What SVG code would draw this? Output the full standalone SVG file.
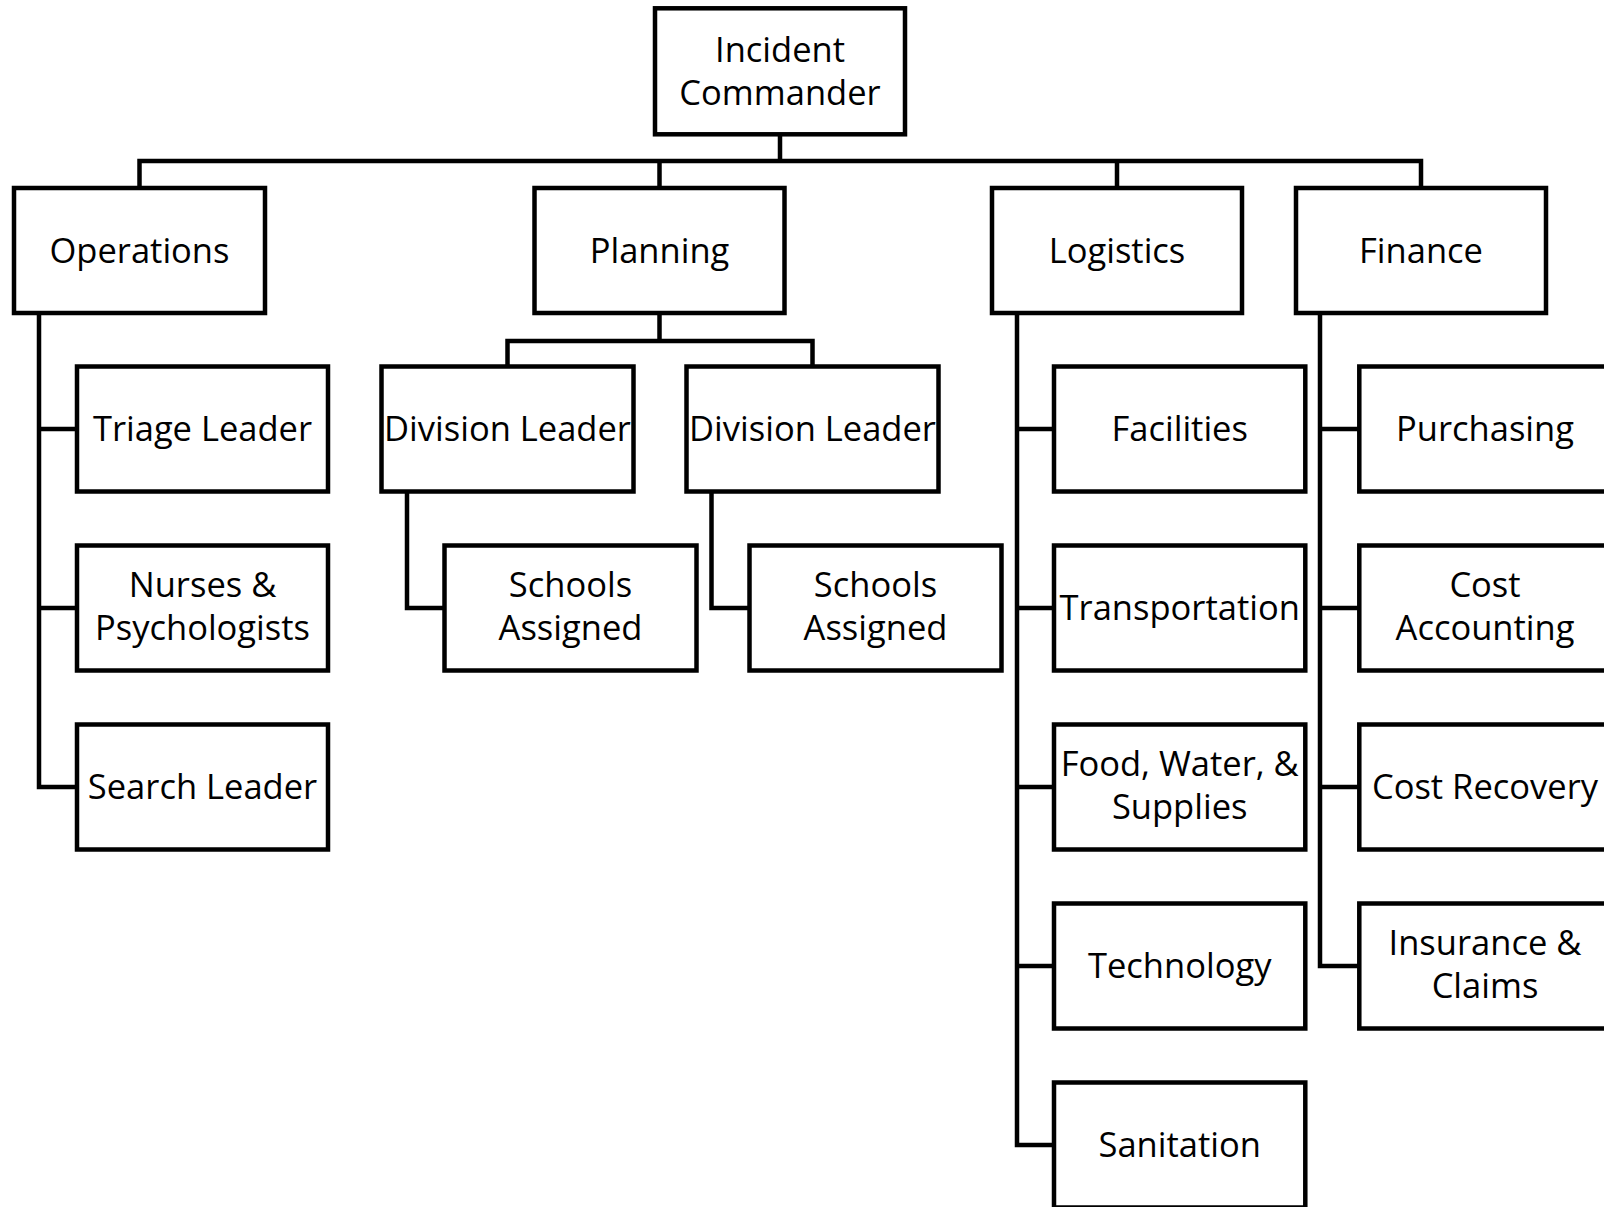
<svg xmlns="http://www.w3.org/2000/svg" width="1604" height="1207" viewBox="0 0 1604 1207">
<style>
.box{fill:#fff;stroke:#000;stroke-width:4.5}
.ln{fill:none;stroke:#000;stroke-width:4.5;stroke-linejoin:miter;stroke-linecap:square}
text{font-family:"Open Sans","Noto Sans",sans-serif;font-size:34.5px;fill:#000;text-anchor:middle}
</style>
<rect width="1604" height="1207" fill="#fff"/>
<g id="connectors">
<path class="ln" d="M780 134V161M139.5 161H1421M139.5 161V188M659.5 161V188M1117 161V188M1421 161V188"/>
<path class="ln" d="M659.5 313V341M507.5 341H812.5M507.5 341V366.5M812.5 341V366.5"/>
<path class="ln" d="M407 491.5V608H444.5M711.5 491.5V608H749.5"/>
<path class="ln" d="M39 313V787H77M39 429H77M39 608H77"/>
<path class="ln" d="M1017 313V1145H1054M1017 429H1054M1017 608H1054M1017 787H1054M1017 966H1054"/>
<path class="ln" d="M1320 313V966H1359M1320 429H1359M1320 608H1359M1320 787H1359"/>
</g>
<g id="incident-commander"><rect class="box" x="655" y="8.3" width="250" height="126"/><text x="780" y="61.5">Incident</text><text x="780" y="105">Commander</text></g>
<g id="operations"><rect class="box" x="14" y="188" width="251" height="125"/><text x="139.5" y="262.5">Operations</text></g>
<g id="planning"><rect class="box" x="534.5" y="188" width="250" height="125"/><text x="659.5" y="262.5">Planning</text></g>
<g id="logistics"><rect class="box" x="992" y="188" width="250" height="125"/><text x="1117" y="262.5">Logistics</text></g>
<g id="finance"><rect class="box" x="1296" y="188" width="250" height="125"/><text x="1421" y="262.5">Finance</text></g>
<g id="triage-leader"><rect class="box" x="77" y="366.5" width="251" height="125"/><text x="202.5" y="441">Triage Leader</text></g>
<g id="nurses"><rect class="box" x="77" y="545.5" width="251" height="125"/><text x="202.5" y="596.5">Nurses &amp;</text><text x="202.5" y="640">Psychologists</text></g>
<g id="search-leader"><rect class="box" x="77" y="724.5" width="251" height="125"/><text x="202.5" y="799">Search Leader</text></g>
<g id="division-leader-1"><rect class="box" x="381.5" y="366.5" width="252" height="125"/><text x="507.5" y="441">Division Leader</text></g>
<g id="division-leader-2"><rect class="box" x="686.5" y="366.5" width="252" height="125"/><text x="812.5" y="441">Division Leader</text></g>
<g id="schools-1"><rect class="box" x="444.5" y="545.5" width="252" height="125"/><text x="570.5" y="596.5">Schools</text><text x="570.5" y="640">Assigned</text></g>
<g id="schools-2"><rect class="box" x="749.5" y="545.5" width="252" height="125"/><text x="875.5" y="596.5">Schools</text><text x="875.5" y="640">Assigned</text></g>
<g id="facilities"><rect class="box" x="1054" y="366.5" width="251.3" height="125"/><text x="1179.7" y="441">Facilities</text></g>
<g id="transportation"><rect class="box" x="1054" y="545.5" width="251.3" height="125"/><text x="1179.7" y="620">Transportation</text></g>
<g id="food"><rect class="box" x="1054" y="724.5" width="251.3" height="125"/><text x="1179.7" y="775.5">Food, Water, &amp;</text><text x="1179.7" y="819">Supplies</text></g>
<g id="technology"><rect class="box" x="1054" y="903.5" width="251.3" height="125"/><text x="1179.7" y="978">Technology</text></g>
<g id="sanitation"><rect class="box" x="1054" y="1082.5" width="251.3" height="125"/><text x="1179.7" y="1157">Sanitation</text></g>
<g id="purchasing"><rect class="box" x="1359.3" y="366.5" width="251" height="125"/><text x="1485" y="441">Purchasing</text></g>
<g id="cost-accounting"><rect class="box" x="1359.3" y="545.5" width="251" height="125"/><text x="1485" y="596.5">Cost</text><text x="1485" y="640">Accounting</text></g>
<g id="cost-recovery"><rect class="box" x="1359.3" y="724.5" width="251" height="125"/><text x="1485" y="799">Cost Recovery</text></g>
<g id="insurance"><rect class="box" x="1359.3" y="903.5" width="251" height="125"/><text x="1485" y="954.5">Insurance &amp;</text><text x="1485" y="998">Claims</text></g>
</svg>
